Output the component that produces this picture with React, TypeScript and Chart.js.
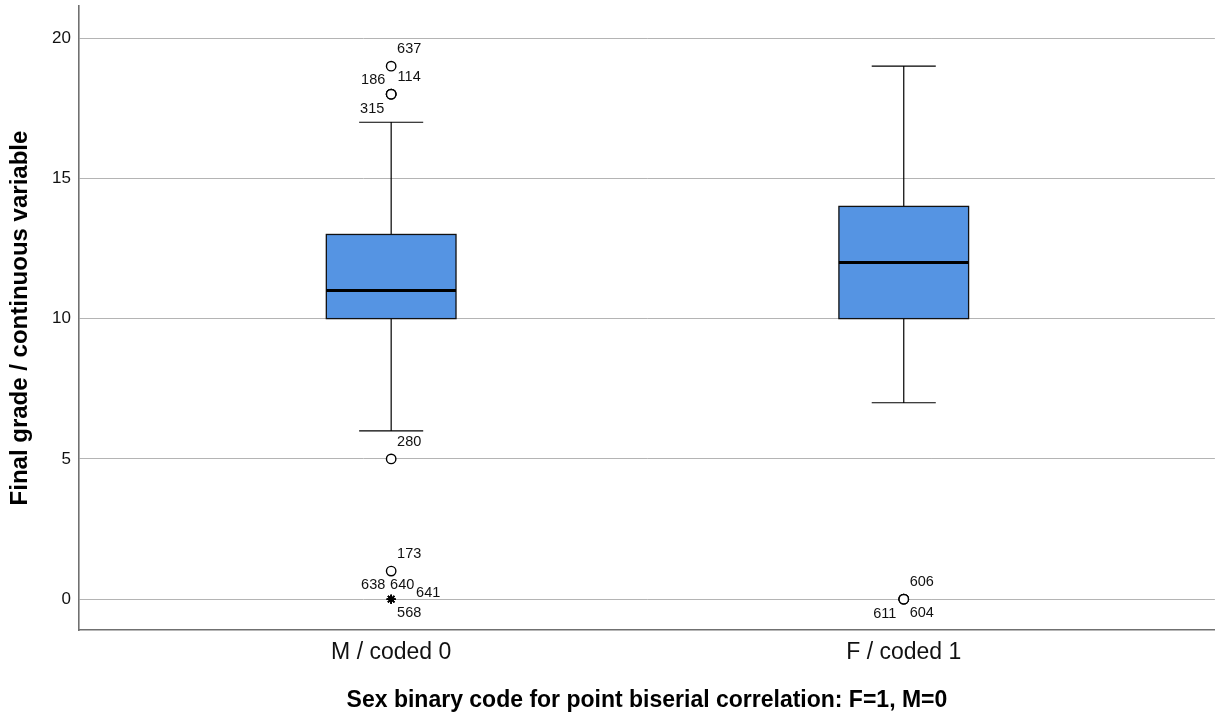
import React, { useEffect, useRef } from 'react';
import { Chart, registerables } from 'chart.js';
Chart.register(...registerables);

const categories = ['M / coded 0', 'F / coded 1'];
const whiskerLow = [6, 7];
const quartile1 = [10, 10];
const medians = [11, 12];
const quartile3 = [13, 14];
const whiskerHigh = [17, 19];
const yTickValues = [0, 5, 10, 15, 20];

// outliers (circles)
const outlierGroup = [0, 0, 0, 0, 0, 0, 1, 1, 1];
const outlierValues = [19, 18, 18, 18, 5, 1, 0, 0, 0];
const outlierIds = ['637', '186', '114', '315', '280', '173', '606', '611', '604'];
// extremes (stars)
const extremeGroup = [0, 0, 0, 0];
const extremeValues = [0, 0, 0, 0];
const extremeIds = ['638', '640', '641', '568'];

// label placement keywords (styling)
const outlierPlacement = ['ur', 'ul', 'ur', 'll', 'ur', 'ur', 'ur', 'll', 'lr'];
const extremePlacement = ['ul', 'uc', 'r', 'lr'];
const placementOffsets: Record<string, [number, number]> = {
  ur: [18, -17],
  ul: [-18, -14],
  ll: [-19, 15],
  lr: [18, 14],
  uc: [11, -14],
  r: [37, -6],
};

const FONT = "Arial, 'Liberation Sans', sans-serif";
const BOX_HALF = 0.1265;
const CAP_HALF = 0.0625;

const boxPlugin = {
  id: 'boxPlugin',
  beforeDatasetsDraw(chart: any) {
    const { ctx, scales } = chart;
    const xs = scales.x;
    const ys = scales.y;
    ctx.save();
    categories.forEach((_, i) => {
      const xc = xs.getPixelForValue(i);
      const xl = xs.getPixelForValue(i - BOX_HALF);
      const xr = xs.getPixelForValue(i + BOX_HALF);
      const cl = xs.getPixelForValue(i - CAP_HALF);
      const cr = xs.getPixelForValue(i + CAP_HALF);
      const yLo = ys.getPixelForValue(whiskerLow[i]);
      const yQ1 = ys.getPixelForValue(quartile1[i]);
      const yMed = ys.getPixelForValue(medians[i]);
      const yQ3 = ys.getPixelForValue(quartile3[i]);
      const yHi = ys.getPixelForValue(whiskerHigh[i]);
      ctx.strokeStyle = '#000';
      ctx.lineWidth = 1.2;
      ctx.beginPath();
      ctx.moveTo(xc, yLo);
      ctx.lineTo(xc, yQ1);
      ctx.moveTo(xc, yQ3);
      ctx.lineTo(xc, yHi);
      ctx.moveTo(cl, yLo);
      ctx.lineTo(cr, yLo);
      ctx.moveTo(cl, yHi);
      ctx.lineTo(cr, yHi);
      ctx.stroke();
      ctx.fillStyle = '#5594e3';
      ctx.fillRect(xl, yQ3, xr - xl, yQ1 - yQ3);
      ctx.lineWidth = 1.3;
      ctx.strokeStyle = '#111';
      ctx.strokeRect(xl, yQ3, xr - xl, yQ1 - yQ3);
      ctx.lineWidth = 3;
      ctx.strokeStyle = '#000';
      ctx.beginPath();
      ctx.moveTo(xl, yMed);
      ctx.lineTo(xr, yMed);
      ctx.stroke();
    });
    ctx.restore();
  },
  afterDatasetsDraw(chart: any) {
    const { ctx, scales } = chart;
    const xs = scales.x;
    const ys = scales.y;
    ctx.save();
    ctx.font = `14.5px ${FONT}`;
    ctx.fillStyle = '#111';
    ctx.textAlign = 'center';
    ctx.textBaseline = 'middle';
    const drawLabels = (groups: number[], vals: number[], ids: string[], places: string[]) => {
      ids.forEach((id, k) => {
        const px = xs.getPixelForValue(groups[k]);
        const py = ys.getPixelForValue(vals[k]);
        const [dx, dy] = placementOffsets[places[k]];
        ctx.fillText(id, px + dx, py + dy);
      });
    };
    drawLabels(outlierGroup, outlierValues, outlierIds, outlierPlacement);
    drawLabels(extremeGroup, extremeValues, extremeIds, extremePlacement);
    ctx.restore();
  },
};

export default function App() {
  const ref = useRef<HTMLCanvasElement>(null);
  useEffect(() => {
    if (!ref.current) return;
    const chart = new Chart(ref.current, {
      type: 'scatter',
      data: {
        datasets: [
          {
            label: 'Outliers',
            data: outlierValues.map((v, k) => ({ x: outlierGroup[k], y: v })),
            pointStyle: 'circle',
            pointRadius: 4.7,
            pointBackgroundColor: '#fff',
            pointBorderColor: '#000',
            pointBorderWidth: 1.4,
          },
          {
            label: 'Extremes',
            data: extremeValues.map((v, k) => ({ x: extremeGroup[k], y: v })),
            pointStyle: 'star',
            pointRadius: 4.5,
            pointBackgroundColor: '#000',
            pointBorderColor: '#000',
            pointBorderWidth: 1.5,
          },
        ],
      },
      options: {
        responsive: false,
        animation: false,
        layout: { padding: { top: 5, right: 3, left: 0, bottom: 0 } },
        plugins: {
          legend: { display: false },
          tooltip: { enabled: false },
        },
        scales: {
          x: {
            type: 'linear',
            min: -0.609,
            max: 1.607,
            afterBuildTicks: (s: any) => {
              s.ticks = categories.map((_, i) => ({ value: i }));
            },
            afterFit: (s: any) => {
              s.height = 87;
              s.paddingLeft = 0;
              s.paddingRight = 0;
            },
            ticks: {
              callback: (v: any) => categories[v as number] ?? '',
              font: { family: FONT, size: 23 },
              color: '#111',
              padding: 9,
              maxRotation: 0,
            },
            grid: { display: false, drawTicks: false },
            border: { display: true, color: '#707070', width: 1.6 },
            title: {
              display: true,
              text: 'Sex binary code for point biserial correlation: F=1, M=0',
              font: { family: FONT, size: 23, weight: 'bold' },
              color: '#000',
              padding: { top: 0, bottom: 3 },
            },
          },
          y: {
            type: 'linear',
            min: -1.1,
            max: 21.14,
            afterBuildTicks: (s: any) => {
              s.ticks = yTickValues.map((v) => ({ value: v }));
            },
            afterFit: (s: any) => {
              s.width = 79;
              s.paddingTop = 0;
              s.paddingBottom = 0;
            },
            ticks: {
              font: { family: FONT, size: 17 },
              color: '#111',
              padding: 8,
            },
            grid: { color: '#b4b4b4', lineWidth: 1, drawTicks: false },
            border: { display: true, color: '#707070', width: 1.6 },
            title: {
              display: true,
              text: 'Final grade / continuous variable',
              font: { family: FONT, size: 24, weight: 'bold' },
              color: '#000',
              padding: { top: 6, bottom: 0 },
            },
          },
        },
      },
      plugins: [boxPlugin],
    });
    return () => chart.destroy();
  }, []);
  return (
    <div style={{ position: 'absolute', left: 0, top: 0, width: 1221, height: 717, background: '#fff' }}>
      <canvas ref={ref} width={1221} height={717} />
    </div>
  );
}
